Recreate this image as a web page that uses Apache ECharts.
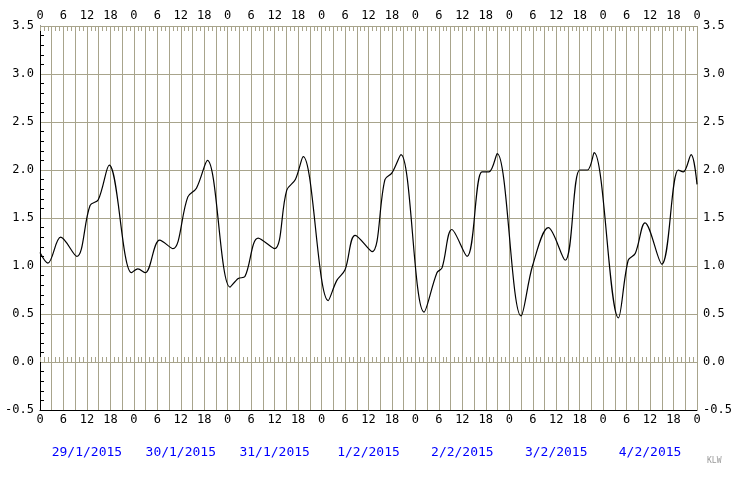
<!DOCTYPE html><html><head><meta charset="utf-8">
<script src="https://cdn.jsdelivr.net/npm/echarts@6/dist/echarts.min.js"></script>
<style>body{margin:0;background:#fff}#c{width:740px;height:480px}</style></head><body><div id="c"></div>
<script>
const dates=['29/1/2015','30/1/2015','31/1/2015','1/2/2015','2/2/2015','3/2/2015','4/2/2015'];
const hours=[0,2,5.3,9.4,12.8,14.9,17.7,23.4,25,26.9,30.6,34,37.8,40,42.8,48.6,50.7,52.4,55.8,60,63.1,65.3,67.3,73.7,75.9,78,80.6,84.9,88.2,90,92.3,98.2,101.5,102.8,105.3,109.2,113,114.8,116.9,123,126,130,134.3,138,140,141.7,147.9,150.4,152.2,154.7,159,163.2,164.5,166.5,168];
const values=[1.14,1.03,1.3,1.1,1.63,1.69,2.05,0.93,0.97,0.93,1.27,1.18,1.72,1.81,2.1,0.78,0.87,0.89,1.29,1.18,1.79,1.9,2.14,0.64,0.85,0.96,1.32,1.15,1.9,1.97,2.16,0.52,0.93,0.98,1.38,1.1,1.98,1.98,2.17,0.48,1.01,1.4,1.06,2.0,2.0,2.18,0.46,1.06,1.13,1.45,1.02,2.0,1.98,2.16,1.85];
const data=hours.map((h,i)=>[h,values[i]]);
const f='DejaVu Sans Mono';
const c=echarts.init(document.getElementById('c'));
const gc='#a8a48c';
const lab=v=>(v%6===0?String(v%24):'');
c.setOption({animation:false,
grid:{left:40,right:43,top:26,bottom:70},
xAxis:[
{type:'value',min:0,max:168,interval:3,position:'bottom',
 axisLine:{onZero:false,lineStyle:{color:'#000'}},axisTick:{show:false},
 axisLabel:{formatter:lab,color:'#000',fontFamily:f,fontSize:12,margin:4},
 splitLine:{show:true,lineStyle:{color:gc,width:1}}},
{type:'value',min:0,max:168,interval:3,position:'top',
 axisLine:{show:false},axisTick:{show:false},
 axisLabel:{formatter:lab,color:'#000',fontFamily:f,fontSize:12,margin:4},splitLine:{show:false}},
{type:'value',min:0,max:168,interval:1,position:'bottom',
 axisLine:{show:false},axisTick:{show:true,inside:true,length:5,lineStyle:{color:gc}},axisLabel:{show:false},splitLine:{show:false}},
{type:'value',min:0,max:168,interval:1,position:'top',
 axisLine:{show:false},axisTick:{show:true,inside:true,length:5,lineStyle:{color:gc}},axisLabel:{show:false},splitLine:{show:false}},
{type:'category',data:dates,position:'bottom',offset:28,
 axisLine:{show:false},axisTick:{show:false},
 axisLabel:{color:'#0000ff',fontFamily:f,fontSize:13,interval:0}}
],
yAxis:[
{type:'value',min:-0.5,max:3.5,interval:0.5,
 axisLine:{show:true,onZero:false,lineStyle:{color:'#000'}},axisTick:{show:false,inside:true},
 minorTick:{show:true,splitNumber:5,length:4,lineStyle:{color:'#000'}},
 axisLabel:{formatter:v=>v.toFixed(1),color:'#000',fontFamily:f,fontSize:12,margin:6},
 splitLine:{show:true,lineStyle:{color:gc}}},
{type:'value',min:-0.5,max:3.5,interval:0.5,position:'right',
 axisLine:{show:false},axisTick:{show:false},
 axisLabel:{formatter:v=>v.toFixed(1),color:'#000',fontFamily:f,fontSize:12,margin:6},splitLine:{show:false}}
],
graphic:[{type:'text',left:707,top:457,style:{text:'KLW',fill:'#999',font:'8px '+f}}],
series:[{type:'line',data:data,smooth:0.35,showSymbol:false,lineStyle:{color:'#000',width:1.2},xAxisIndex:0,yAxisIndex:0}]
});
</script></body></html>
